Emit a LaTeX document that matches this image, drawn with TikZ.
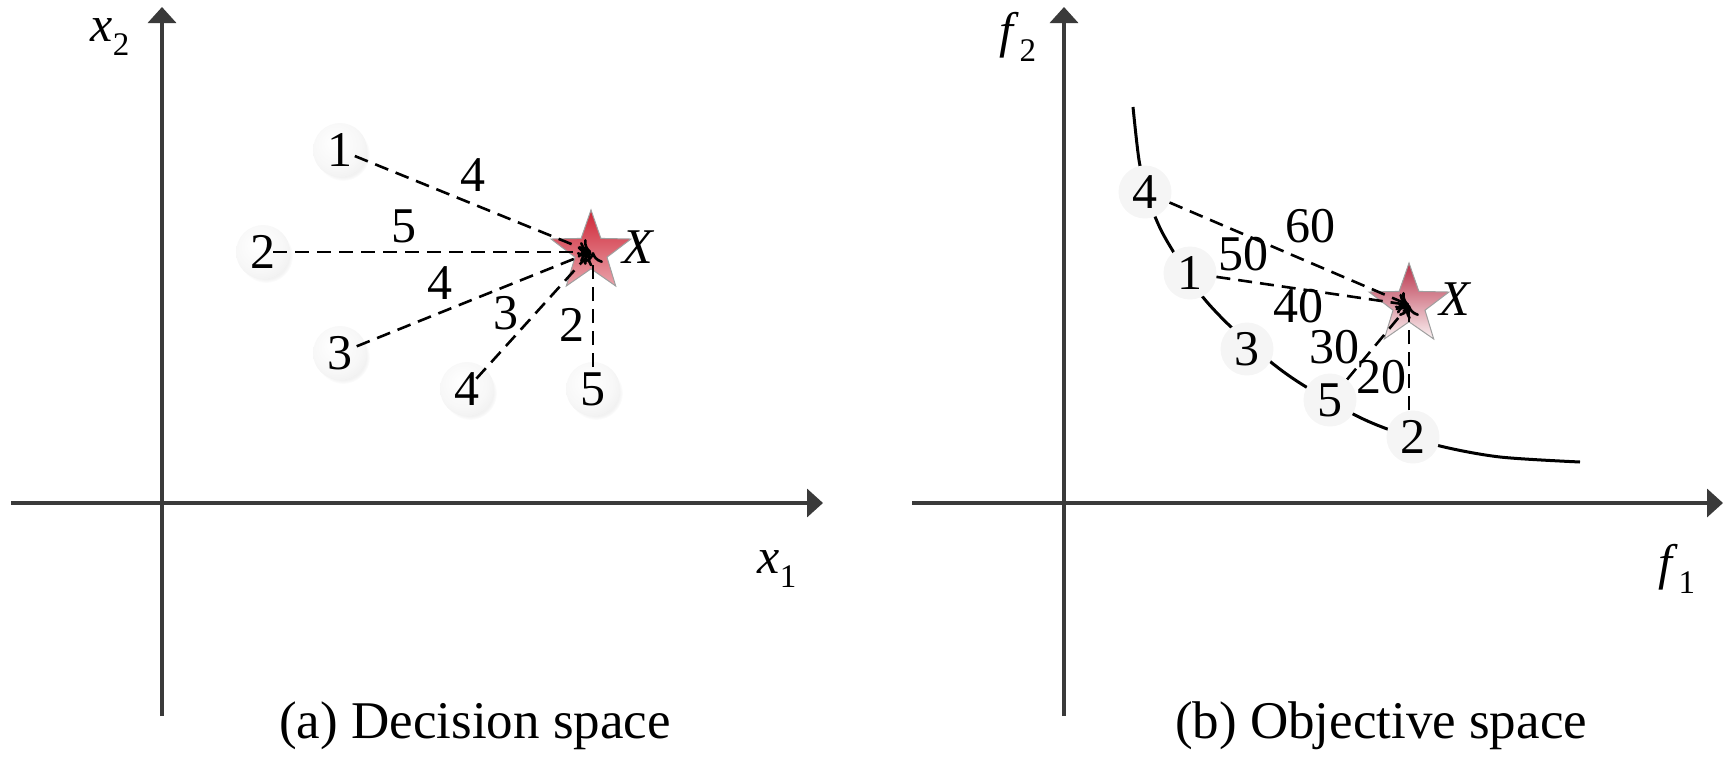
\documentclass[tikz,border=0pt]{standalone}
\usepackage{fontspec}
\setmainfont{Liberation Serif}
\newfontfamily\tnr{Liberation Serif}
\usetikzlibrary{arrows.meta,shapes.geometric,shadows}
\definecolor{axisgray}{HTML}{3A3A3A}
\definecolor{starredA}{HTML}{CF2535}
\definecolor{starredB}{HTML}{E9A3AB}
\definecolor{starredC}{HTML}{B83048}
\definecolor{starredD}{HTML}{FBF3F4}
\pgfdeclareradialshading{softball}{\pgfpoint{-6bp}{8bp}}{color(0bp)=(white); color(22bp)=(black!3); color(42bp)=(black!9); color(50bp)=(black!13)}
\newcommand\digsz{\tnr\fontsize{50}{50}\selectfont}
\newcommand\labsz{\tnr\fontsize{50}{50}\selectfont}
\newcommand\capsz{\tnr\fontsize{53}{53}\selectfont}
\newcommand\subsc[1]{\raisebox{-0.28em}{\tnr\fontsize{33}{33}\selectfont #1}}
\begin{document}
\begin{tikzpicture}[x=1pt,y=-1pt,
  axis/.style={line width=3.5pt,draw=axisgray,-{Triangle[length=16pt,width=28pt]}},
  lnode/.style={circle,minimum size=54pt,inner sep=0pt,shading=softball,
    circular drop shadow={shadow xshift=3pt,shadow yshift=-4pt,shadow scale=1,fill=black!10,opacity=0.5},font=\digsz},
  rnode/.style={circle,minimum size=53pt,inner sep=0pt,fill=black!4,font=\digsz},
  starA/.style={star,star points=5,star point ratio=2.5,minimum size=84pt,inner sep=0pt,
    draw=gray!75,line width=1pt,top color=starredA,bottom color=starredB},
  starB/.style={star,star points=5,star point ratio=2.5,minimum size=84pt,inner sep=0pt,
    draw=gray!75,line width=1pt,top color=starredC,bottom color=starredD},
  edge/.style={line width=2.6pt,dash pattern=on 14pt off 8pt,-{To[length=11pt,width=20pt]}},
  elab/.style={font=\digsz,inner sep=0pt},
  mlab/.style={font=\labsz,inner sep=0pt},
  caplab/.style={font=\capsz,inner sep=0pt},
  front/.style={line width=3pt}
]
\useasboundingbox (0,0) rectangle (1732,756);
% ---------- left panel ----------
\coordinate (ax2o) at (162,716);
\coordinate (ax2t) at (162,7);
\coordinate (ax1o) at (11,503);
\coordinate (ax1t) at (823,503);
\draw[axis] (ax2o) -- (ax2t);
\draw[axis] (ax1o) -- (ax1t);
\node[mlab] (lx2) at (110,37) {\textit{x}\subsc{2}};
\node[mlab] (lx1) at (777,569) {\textit{x}\subsc{1}};

\node[starA] (astar) at (591,252) {};
\node[mlab,anchor=west] (lX) at (622,247) {\textit{X}};

\node[lnode] (a1) at (340,150) {1};
\node[lnode] (a2) at (263,252) {2};
\node[lnode] (a3) at (340,353) {3};
\node[lnode] (a4) at (467,389) {4};
\node[lnode] (a5) at (593,389) {5};

\draw[edge,shorten <=16pt] (a1.center) -- (astar.center);
\draw[edge,shorten <=10pt] (a2.center) -- (astar.center);
\draw[edge,shorten <=18pt] (a3.center) -- (astar.center);
\draw[edge,shorten <=14pt] (a4.center) -- (astar.center);
\draw[edge,shorten <=22pt] (a5.center) -- (a5.center |- astar.center);

\node[elab] (e1) at (473,175) {4};
\node[elab] (e2) at (404,226) {5};
\node[elab] (e3) at (440,283) {4};
\node[elab] (e4) at (506,313) {3};
\node[elab] (e5) at (572,325) {2};

\node[caplab] (capa) at (475,726) {(a) Decision space};

% ---------- right panel ----------
\coordinate (bx2o) at (1064,716);
\coordinate (bx2t) at (1064,7);
\coordinate (bx1o) at (912,503);
\coordinate (bx1t) at (1723,503);
\draw[axis] (bx2o) -- (bx2t);
\draw[axis] (bx1o) -- (bx1t);
\node[mlab] (lf2) at (1018,37) {\textit{f}\subsc{2}};
\node[mlab] (lf1) at (1677,569) {\textit{f}\subsc{1}};

\draw[front] plot[smooth,tension=0.5] coordinates {(1133,107) (1139,160) (1147,195) (1160,228) (1176,256) (1202,296) (1232,328) (1272,363) (1303,385) (1355,415) (1390,430) (1440,446) (1500,457) (1580,462)};

\node[starB] (bstar) at (1409,305) {};
\node[mlab,anchor=west] (rX) at (1439,299) {\textit{X}};

\node[rnode] (b4) at (1145,192) {4};
\node[rnode] (b1) at (1190,273) {1};
\node[rnode] (b3) at (1247,349) {3};
\node[rnode] (b5) at (1330,400) {5};
\node[rnode] (b2) at (1413,437) {2};

\draw[edge] (b4) -- (bstar.center);
\draw[edge] (b1) -- (bstar.center);
\draw[edge] (b5) -- (bstar.center);
\draw[edge] (b2.north -| bstar.center) -- (bstar.center);

\node[elab] (f1) at (1310,226) {60};
\node[elab] (f2) at (1243,254) {50};
\node[elab] (f3) at (1298,306) {40};
\node[elab] (f4) at (1334,347) {30};
\node[elab] (f5) at (1381,377) {20};

\node[caplab] (capb) at (1381,726) {(b) Objective space};
\end{tikzpicture}
\end{document}
